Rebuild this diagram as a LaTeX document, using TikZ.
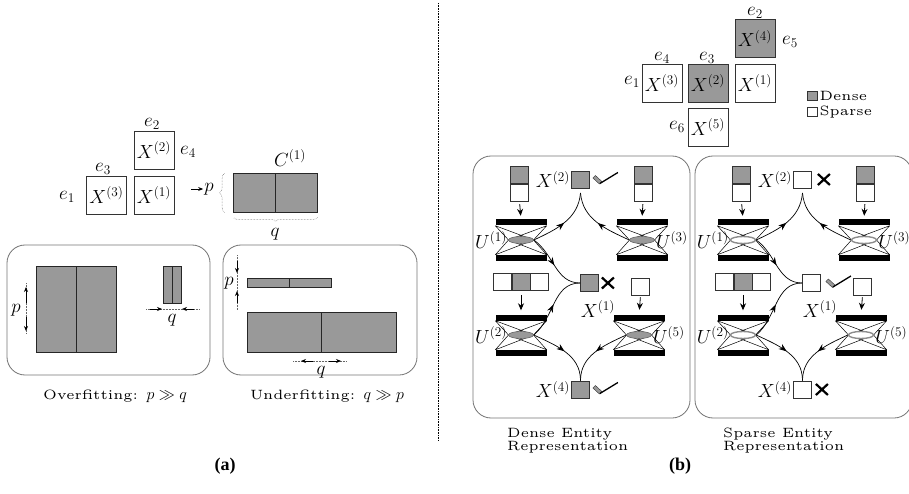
\RequirePackage{fix-cm}
\documentclass[tikz,border=0pt]{standalone}
\usepackage{amsmath}
\usepackage{fontspec}
\newfontfamily\lmfive{lmroman5-regular.otf}
\newfontfamily\figfont{Liberation Serif}[BoldFont={Liberation Serif Bold}]
\usepackage{tikz}
\usetikzlibrary{arrows.meta,shapes,decorations.pathreplacing,decorations.markings}

\definecolor{cellgray}{gray}{0.6}
\newcommand{\mathsize}{\fontsize{19}{21}\selectfont}
\newcommand{\capsize}{\lmfive\fontsize{13.5}{13}\selectfont}
\newcommand{\capmath}[1]{{\fontsize{16}{16}\selectfont$#1$}}

% hourglass autoencoder: name, centre, code fill, code draw, code line width
\newcommand{\autoenc}[5]{%
  \begin{scope}[shift={#2}]
    \node[bar] (#1t) at (0,-17.5) {};
    \node[bar] (#1b) at (0,18) {};
    \coordinate (#1w) at (-12.5,0);
    \coordinate (#1e) at (12.5,0);
    \draw[line width=0.5pt] (#1t.south west) -- (#1e) (#1t.south west) -- (#1w)
      (#1t.south east) -- (#1w) (#1t.south east) -- (#1e)
      (#1b.north west) -- (#1e) (#1b.north west) -- (#1w)
      (#1b.north east) -- (#1w) (#1b.north east) -- (#1e);
    \node[code, fill=#3, draw=#4, line width=#5] (#1) at (0,0) {};
  \end{scope}}

% tick and cross next to an output
\newcommand{\chkmark}[2]{%
  \begin{scope}[shift={#1}, xshift=#2]
    \filldraw[fill=cellgray, draw=black!80, line width=0.4pt] (3,-1.5) -- (5.5,-4) -- (12,2) -- (9.5,4.5) -- cycle;
    \draw[line width=1.3pt] (10,4) -- (28,-7);
  \end{scope}}
\newcommand{\crossmark}[2]{%
  \begin{scope}[shift={#1}, xshift=#2]
    \draw[line width=2.2pt] (0,-5.5) -- (12,5.5) (0,5.5) -- (12,-5.5);
  \end{scope}}

\begin{document}
\begin{tikzpicture}[x=1pt,y=-1pt]
	\tikzstyle{cell}=[draw=black!80, line width=0.8pt, fill=white, minimum width=18pt, minimum height=17pt, inner sep=0pt]
	\tikzstyle{dcell}=[cell, fill=cellgray]
	\tikzstyle{bigcell}=[cell, minimum width=40pt, minimum height=38pt, font=\mathsize]
	\tikzstyle{mat}=[draw=black!85, line width=0.9pt, fill=cellgray, inner sep=0pt]
	\tikzstyle{panel}=[draw=black!55, line width=0.8pt, rounded corners=18pt]
	\tikzstyle{dim}=[densely dotted, draw=black!60, line width=0.5pt]
	\tikzstyle{dim_arrow}=[-{Stealth[length=5pt,width=4pt]}, line width=0.8pt]
	\tikzstyle{feed}=[-{Stealth[length=7pt,width=6pt]}, line width=0.8pt]
	\tikzstyle{flow}=[line width=0.7pt, postaction={decorate}, decoration={markings, mark=at position 0.5 with {\arrow{Stealth[length=8pt,width=6pt]}}}]
	\tikzstyle{code}=[ellipse, minimum width=25pt, minimum height=7pt, inner sep=0pt]
	\tikzstyle{bar}=[fill=black, minimum width=51pt, minimum height=6pt, inner sep=0pt]
	\tikzstyle{lbl}=[font=\mathsize, inner sep=1pt]
	\tikzstyle{caption}=[font=\capsize, inner sep=0pt]

	\useasboundingbox (0,0) rectangle (909,494);
	\clip (0,0) rectangle (909,494);

	% (a) views of the entities
	\node [bigcell] (aX3) at (106.5,195) {$X^{(3)}$};
	\node [bigcell] (aX1) at (154,195) {$X^{(1)}$};
	\node [bigcell] (aX2) at (154,150) {$X^{(2)}$};
	\node [lbl] (ae2) at (152,124) {$e_2$};
	\node [lbl] (ae4) at (188,152) {$e_4$};
	\node [lbl] (ae3) at (103,169) {$e_3$};
	\node [lbl] (ae1) at (67,197) {$e_1$};

	\node [mat, minimum width=42pt, minimum height=39pt] (C1a) at (254,192.5) {};
	\node [mat, minimum width=42pt, minimum height=39pt] (C1b) at (296,192.5) {};
	\node [lbl] (C1) at (290,158) {$C^{(1)}$};
	\node [lbl] (ap) at (209,189) {$p$};
	\coordinate (apin) at (191,189);
	\draw [dim_arrow] (apin) -- (ap.west);
	\draw [dim, decorate, decoration={brace, amplitude=5pt}] (C1a.south west) ++(-8,0) -- ++(0,-39);
	\draw [dim, decorate, decoration={brace, amplitude=4pt}] (C1b.south east) ++(0,5) -- ++(-84,0);
	\node [lbl] (aq) at (275,234) {$q$};

	% overfitting
	\draw [panel] (7,245) rectangle (210,375);
	\node [mat, minimum width=40pt, minimum height=86pt] (ovA) at (56,309) {};
	\node [mat, minimum width=40pt, minimum height=86pt] (ovB) at (96,309) {};
	\node [mat, minimum width=9pt, minimum height=37pt] (ovC) at (167.5,284.5) {};
	\node [mat, minimum width=9pt, minimum height=37pt] (ovD) at (176.5,284.5) {};
	\coordinate (ovp1) at (26,283);
	\coordinate (ovp2) at (26,333);
	\node [lbl] (ovp) at (16,310) {$p$};
	\draw [dim] (ovp1) -- (ovp2);
	\draw [dim_arrow] (26,303) -- (26,287);
	\draw [dim_arrow] (26,317) -- (26,331);
	\coordinate (ovq1) at (146,309);
	\coordinate (ovq2) at (200,309);
	\node [lbl] (ovq) at (172,320) {$q$};
	\draw [dim] (ovq1) -- (ovq2);
	\draw [dim_arrow] (150,309) -- (162,309);
	\draw [dim_arrow] (194,309) -- (182,309);
	\node [caption] (ovcap) at (115,396) {Overfitting: \capmath{p \gg q}};

	% underfitting
	\draw [panel] (223,245) rectangle (417,375);
	\node [mat, minimum width=42pt, minimum height=9pt] (unA) at (268,282.5) {};
	\node [mat, minimum width=42pt, minimum height=9pt] (unB) at (310,282.5) {};
	\node [mat, minimum width=74.5pt, minimum height=40pt] (unC) at (284.25,332) {};
	\node [mat, minimum width=74.5pt, minimum height=40pt] (unD) at (358.75,332) {};
	\coordinate (unp1) at (237,255);
	\coordinate (unp2) at (237,310);
	\node [lbl] (unp) at (229,283) {$p$};
	\draw [dim] (unp1) -- (unp2);
	\draw [dim_arrow] (237,261) -- (237,273);
	\draw [dim_arrow] (237,303) -- (237,291);
	\coordinate (unq1) at (293,361);
	\coordinate (unq2) at (347,361);
	\node [lbl] (unq) at (321,372) {$q$};
	\draw [dim] (unq1) -- (unq2);
	\draw [dim_arrow] (313,361) -- (301,361);
	\draw [dim_arrow] (329,361) -- (341,361);
	\node [caption] (uncap) at (327,396) {Underfitting: \capmath{q \gg p}};

	\draw [densely dotted, line width=0.6pt] (438,3) -- (438,441);

	% (b) entity views
	\node [bigcell, fill=cellgray] (bX4) at (755,38.5) {$X^{(4)}$};
	\node [bigcell] (bX3) at (662,83) {$X^{(3)}$};
	\node [bigcell, fill=cellgray] (bX2) at (708,83) {$X^{(2)}$};
	\node [bigcell] (bX1) at (755,83) {$X^{(1)}$};
	\node [bigcell] (bX5) at (708,127) {$X^{(5)}$};
	\node [lbl] (be2) at (755,13) {$e_2$};
	\node [lbl] (be5) at (790,42) {$e_5$};
	\node [lbl] (be4) at (662,58) {$e_4$};
	\node [lbl] (be3) at (707,58) {$e_3$};
	\node [lbl] (be1) at (632,82) {$e_1$};
	\node [lbl] (be6) at (677,127) {$e_6$};
	\node [dcell, minimum width=10pt, minimum height=9pt] (legD) at (812,96) {};
	\node [cell, minimum width=10pt, minimum height=9pt] (legS) at (812,112) {};
	\node [caption, anchor=west, xshift=2pt] (legDt) at (legD.east) {Dense};
	\node [caption, anchor=west, xshift=2pt] (legSt) at (legS.east) {Sparse};

	\foreach \p/\dx/\cfill/\cdraw/\cw/\ofill in {d/0/cellgray/black!60/0.6pt/cellgray, s/222/white/black!45/1.4pt/white} {
		\begin{scope}[xshift=\dx]
			\draw [panel] (473,156) rectangle (690,418);

			\node [dcell] (\p in1a) at (519.5,175) {};
			\node [cell, anchor=north] (\p in1b) at (\p in1a.south) {};
			\node [dcell] (\p in3a) at (643,175) {};
			\node [cell, anchor=north] (\p in3b) at (\p in3a.south) {};
			\node [dcell] (\p in2b) at (521,282) {};
			\node [cell, anchor=east] (\p in2a) at (\p in2b.west) {};
			\node [cell, anchor=west] (\p in2c) at (\p in2b.east) {};
			\node [cell] (\p in5) at (640.5,287) {};

			\autoenc{\p U1}{(521,240)}{\cfill}{\cdraw}{\cw}
			\autoenc{\p U3}{(642,240)}{\cfill}{\cdraw}{\cw}
			\autoenc{\p U2}{(521,335)}{\cfill}{\cdraw}{\cw}
			\autoenc{\p U5}{(639,335)}{\cfill}{\cdraw}{\cw}
			\node [lbl, anchor=east] (\p U1l) at (\p U1.west) {$U^{(1)}$};
			\node [lbl, anchor=west] (\p U3l) at (\p U3.east) {$U^{(3)}$};
			\node [lbl, anchor=east] (\p U2l) at (\p U2.west) {$U^{(2)}$};
			\node [lbl, anchor=west] (\p U5l) at (\p U5.east) {$U^{(5)}$};

			\draw [feed, shorten <=2.5pt, shorten >=3.5pt] (\p in1b.south) -- (\p U1t.north);
			\draw [feed, shorten <=2.5pt, shorten >=3.5pt] (\p in3b.south) -- (\p U3t.north);
			\draw [feed, shorten <=4pt, shorten >=4pt] (\p in2b.south) -- (\p U2t.north);
			\draw [feed, shorten <=1.5pt, shorten >=4.5pt] (\p in5.south) -- (\p U5t.north);

			\node [cell, fill=\ofill] (\p X2) at (580.5,179.5) {};
			\node [cell, fill=\ofill] (\p X1) at (589.5,283) {};
			\node [cell, fill=\ofill] (\p X4) at (580.5,389.5) {};
			\node [lbl, anchor=east] (\p X2l) at (\p X2.west) {$X^{(2)}$};
			\node [lbl] (\p X1l) at (598,309) {$X^{(1)}$};
			\node [lbl, anchor=east] (\p X4l) at (\p X4.west) {$X^{(4)}$};
			\coordinate (\p c2) at (580.5,193);

			\draw [flow] (\p U1.east) to [out=25, in=-95] (\p c2);
			\draw [flow] (\p U3.west) to [out=155, in=-85] (\p c2);
			\draw [flow] (\p U1.east) to [out=-35, in=180] (\p X1.west);
			\draw [flow] (\p U2.east) to [out=40, in=180] (\p X1.west);
			\draw [flow] (\p U2.east) to [out=-25, in=90] (\p X4.north);
			\draw [flow] (\p U5.west) to [out=205, in=90] (\p X4.north);
		\end{scope}
	}

	\chkmark{(dX2.east)}{0}
	\crossmark{(dX1.east)}{3}
	\chkmark{(dX4.east)}{0}
	\crossmark{(sX2.east)}{6}
	\chkmark{(sX1.east)}{2}
	\crossmark{(sX4.east)}{4}

	\node [caption, anchor=west, align=left] (dcap) at (507,441) {Dense Entity\\Representation};
	\node [caption, anchor=west, align=left] (scap) at (723,441) {Sparse Entity\\Representation};

	\node [font=\figfont\bfseries\fontsize{18}{18}\selectfont] (fa) at (225,466) {(a)};
	\node [font=\figfont\bfseries\fontsize{18}{18}\selectfont] (fb) at (680,466) {(b)};
\end{tikzpicture}
\end{document}
